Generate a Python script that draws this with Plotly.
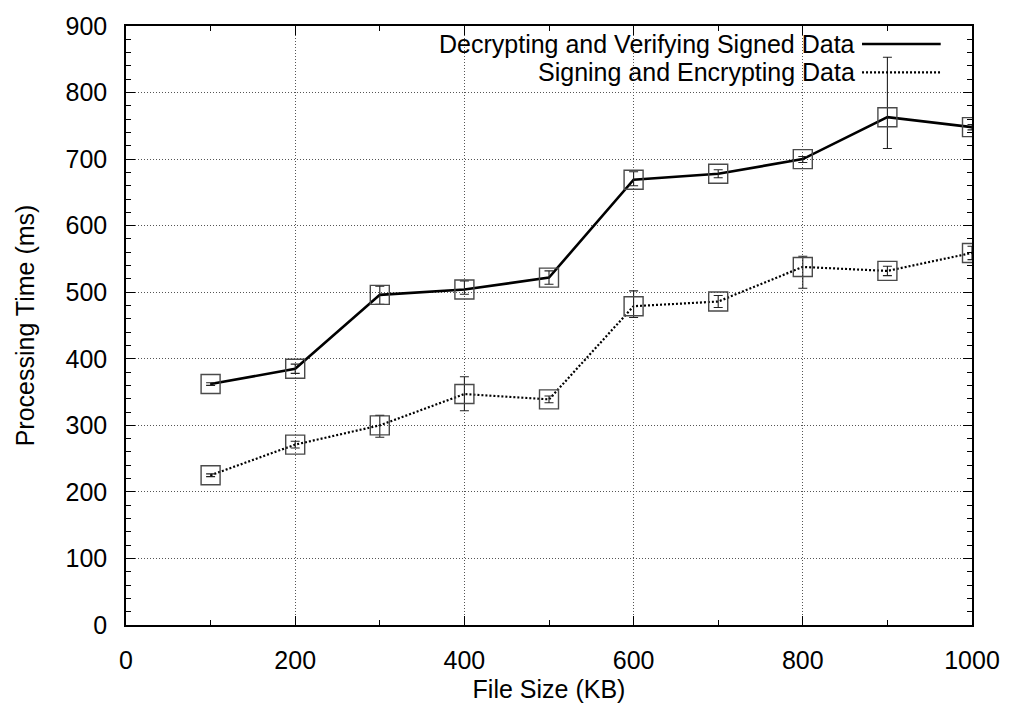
import plotly.graph_objects as go

file_size = [100, 200, 300, 400, 500, 600, 700, 800, 900, 1000]

dec_name = "Decrypting and Verifying Signed Data"
dec_time = [362, 385, 496, 504, 522, 669, 678, 700, 763, 748]
dec_plus = [2, 7, 13, 13, 10, 12, 6, 4, 90, 4]
dec_minus = [2, 7, 14, 7, 10, 9, 6, 5, 47, 4]

sig_name = "Signing and Encrypting Data"
sig_time = [225, 271, 300, 347, 339, 479, 486, 538, 532, 559]
sig_plus = [2, 5, 15, 26, 5, 23, 9, 16, 7, 10]
sig_minus = [2, 5, 18, 25, 5, 17, 9, 32, 7, 10]

FONT = "Liberation Sans, Arial, Helvetica, sans-serif"
FS_TICK = 25
FS_TITLE = 25
FS_LEG = 25

fig = go.Figure()

def add_series(y, plus, minus, dash, width, name):
    fig.add_trace(go.Scatter(
        x=file_size, y=y, name=name, mode="lines",
        line=dict(color="black", width=width, dash=dash),
        showlegend=False, hoverinfo="skip"))
    fig.add_trace(go.Scatter(
        x=file_size, y=y, name=name, mode="markers",
        marker=dict(symbol="square-open", size=19, color="#4a4a4a",
                    line=dict(width=1.4, color="#4a4a4a")),
        error_y=dict(type="data", symmetric=False, array=plus, arrayminus=minus,
                     color="#222222", thickness=1.1, width=4.5),
        showlegend=False))

add_series(dec_time, dec_plus, dec_minus, "solid", 2.6, dec_name)
add_series(sig_time, sig_plus, sig_minus, "2px,2px", 2.2, sig_name)

# legend (gnuplot style: text right, sample line left)
legend_items = [(dec_name, "solid", 2.6, 0.970), (sig_name, "2px,2px", 2.2, 0.9225)]
fig.add_shape(type="rect", xref="paper", yref="paper", x0=0.34, x1=0.985,
              y0=0.905, y1=0.997, fillcolor="white", line=dict(width=0),
              layer="between")
for text, dash, w, yy in legend_items:
    fig.add_annotation(text=text, xref="paper", yref="paper", x=0.864, y=yy,
                       xanchor="right", yanchor="middle", showarrow=False,
                       font=dict(family=FONT, size=FS_LEG, color="black"))
    fig.add_shape(type="line", xref="paper", yref="paper", x0=0.870, x1=0.963,
                  y0=yy, y1=yy, line=dict(color="black", width=w, dash=dash))

axis_common = dict(
    showline=True, linecolor="black", linewidth=1.5, mirror="allticks",
    ticks="inside", ticklen=9, tickwidth=1.2, tickcolor="black",
    showgrid=True, gridcolor="#555555", gridwidth=1, griddash="1px,2px",
    zeroline=False, ticklabelstandoff=12,
    tickfont=dict(family=FONT, size=FS_TICK, color="black"),
)

fig.update_xaxes(range=[0, 1000], dtick=200, tick0=0,
                 minor=dict(dtick=100, ticks="inside", ticklen=5, tickcolor="black", showgrid=False),
                 title=dict(text="File Size (KB)", font=dict(family=FONT, size=FS_TITLE, color="black"), standoff=8),
                 **axis_common)
fig.update_yaxes(range=[0, 900], dtick=100, tick0=0,
                 minor=dict(dtick=20, ticks="inside", ticklen=5, tickcolor="black", showgrid=False),
                 title=dict(text="Processing Time (ms)", font=dict(family=FONT, size=FS_TITLE, color="black"), standoff=24),
                 **axis_common)

fig.update_layout(
    width=1012, height=711,
    margin=dict(l=126, r=38, t=22, b=82, pad=0),
    paper_bgcolor="white", plot_bgcolor="white",
    font=dict(family=FONT, size=FS_TICK, color="black"),
    showlegend=False,
)

fig.write_html("out.html")
